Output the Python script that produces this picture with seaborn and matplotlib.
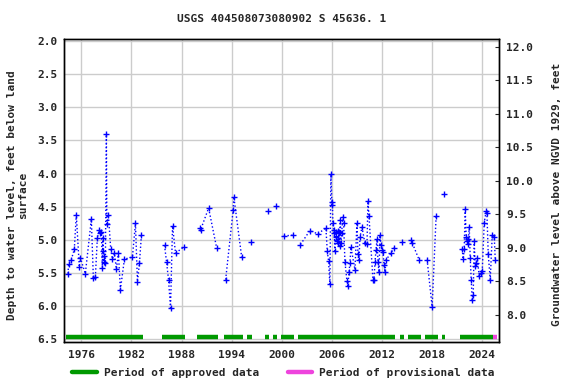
import numpy as np
import pandas as pd
import matplotlib
matplotlib.use("Agg")
import matplotlib.pyplot as plt
from matplotlib.lines import Line2D
import seaborn as sns

# measurement dates (decimal years) and depth to water (ft below land surface)
years = [
    1974.40, 1974.48, 1974.80, 1975.16, 1975.40, 1975.76, 1975.88, 1976.48,
    1977.20, 1977.44, 1977.68, 1977.92, 1978.16, 1978.28, 1978.40, 1978.52,
    1978.58, 1978.64, 1978.70, 1978.76, 1978.88, 1979.00, 1979.06, 1979.24,
    1979.52, 1979.72, 1979.96, 1980.20, 1980.44, 1980.68, 1981.16, 1982.12,
    1982.48, 1982.72, 1982.96, 1983.20,
    1985.96, 1986.20, 1986.44, 1986.68, 1986.92, 1987.28, 1988.24,
    1990.16, 1990.28, 1991.24, 1992.20,
    1993.28, 1994.18, 1994.26, 1995.20,
    1996.28, 1998.32, 1999.28, 2000.24, 2001.32,
    2002.24, 2003.36, 2004.32, 2005.28, 2005.45, 2005.60, 2005.76, 2005.88,
    2006.00, 2006.06, 2006.12, 2006.20, 2006.28, 2006.36, 2006.44, 2006.52,
    2006.60, 2006.68, 2006.76, 2006.84, 2006.92, 2007.00, 2007.08, 2007.16,
    2007.32, 2007.40, 2007.56, 2007.80, 2007.92, 2008.04, 2008.16, 2008.28,
    2008.76, 2009.00, 2009.12, 2009.24, 2009.36, 2009.60, 2009.96, 2010.20,
    2010.32, 2010.44, 2010.92, 2011.04, 2011.16, 2011.28, 2011.40, 2011.52,
    2011.64, 2011.76, 2011.88, 2012.00, 2012.12, 2012.24, 2012.36, 2012.48,
    2013.08, 2013.44,
    2014.40, 2015.48, 2015.60, 2016.44,
    2017.40, 2018.00, 2018.48, 2019.44,
    2021.60, 2021.72, 2021.84, 2021.96, 2022.08, 2022.16, 2022.24, 2022.32,
    2022.44, 2022.56, 2022.68, 2022.80, 2022.92, 2023.04, 2023.16, 2023.28,
    2023.40, 2023.64, 2023.88, 2024.00, 2024.24, 2024.48, 2024.56, 2024.72,
    2024.96, 2025.20, 2025.44, 2025.56,
]
depth = [
    5.51, 5.36, 5.30, 5.14, 4.62, 5.41, 5.27, 5.51,
    4.69, 5.57, 5.56, 4.97, 4.85, 4.90, 4.88, 5.42,
    4.97, 5.17, 5.33, 5.25, 5.35, 3.41, 4.76, 4.62,
    5.14, 5.29, 5.20, 5.44, 5.20, 5.75, 5.29, 5.26,
    4.75, 5.63, 5.35, 4.92,
    5.08, 5.33, 5.60, 6.03, 4.79, 5.20, 5.11,
    4.82, 4.85, 4.52, 5.12,
    5.60, 4.55, 4.35, 5.26,
    5.03, 4.56, 4.49, 4.94, 4.93,
    5.07, 4.86, 4.91, 4.82, 5.17, 5.32, 5.67, 4.01,
    4.47, 4.43, 4.75, 4.85, 4.90, 5.17, 4.88, 4.95,
    5.02, 4.87, 5.05, 4.88, 5.10, 4.70, 5.04, 4.90,
    4.65, 4.74, 5.33, 5.62, 5.69, 5.49, 5.35, 5.11,
    5.45, 4.74, 5.22, 5.31, 4.96, 4.81, 5.05, 5.06,
    4.42, 4.64, 5.61, 5.61, 5.33, 5.16, 4.99, 5.33,
    5.49, 4.93, 5.07, 5.16, 5.18, 5.38, 5.49, 5.30,
    5.20, 5.12,
    5.03, 5.00, 5.04, 5.30,
    5.30, 6.01, 4.64, 4.31,
    5.14, 5.29, 5.14, 4.54, 4.95, 5.02, 4.99, 5.06,
    4.80, 5.27, 5.60, 5.90, 5.83, 5.02, 5.40, 5.35,
    5.27, 5.55, 5.50, 5.47, 4.74, 4.56, 4.60, 5.22,
    5.60, 4.92, 4.95, 5.31,
]

# approval periods
approved_start = [1974.16, 1985.68, 1989.88, 1993.08, 1995.80, 1998.04, 1998.97,
                  1999.96, 2002.00, 2014.12, 2015.17, 2017.12, 2019.13, 2021.32]
approved_end = [1983.37, 1988.41, 1992.37, 1995.37, 1996.45, 1998.52, 1999.45,
                2001.52, 2013.60, 2014.60, 2016.64, 2018.68, 2019.60, 2025.25]
provisional_start = [2025.25]
provisional_end = [2025.73]

df = pd.DataFrame({"year": years, "depth": depth})
# lines are only drawn within one approval period
df["seg"] = np.searchsorted(approved_start, df["year"]) - 1

sns.set_style("white")
plt.rcParams["font.family"] = ["DejaVu Sans Mono"]
plt.rcParams["font.weight"] = "bold"
plt.rcParams["font.size"] = 8

fig = plt.figure(figsize=(5.76, 3.84), dpi=100)
ax = fig.add_axes([0.1116, 0.1102, 0.7552, 0.7875])

sns.lineplot(data=df, x="year", y="depth", units="seg", estimator=None,
             color="#0000ff", ls=":", lw=1, marker="+", markersize=5,
             mew=1, mec="#0000ff", ax=ax, legend=False)

bar_y = 6.465
ax.hlines([bar_y] * len(approved_start), approved_start, approved_end,
          color="#009900", lw=3.2)
ax.hlines([bar_y] * len(provisional_start), provisional_start, provisional_end,
          color="#ee44dd", lw=3.2)

ax.set_xlim(1973.96, 2026.04)
ax.set_ylim(6.536, 1.974)
ax.set_xticks(range(1976, 2025, 6))
ax.set_yticks(np.arange(2.0, 6.51, 0.5))
ax.yaxis.set_major_formatter(matplotlib.ticker.FormatStrFormatter("%.1f"))
ax.grid(True, color="#cccccc", lw=1)
ax.tick_params(axis="both", length=0, labelsize=8)
ax.tick_params(axis="x", pad=6)
ax.tick_params(axis="y", pad=5)
ax.set_xlabel("")
ax.set_ylabel("")
for s in ax.spines.values():
    s.set_color("black")
    s.set_linewidth(1)

ax2 = ax.twinx()
ax2.set_ylim(7.602, 12.11)
ax2.set_yticks(np.arange(8.0, 12.01, 0.5))
ax2.yaxis.set_major_formatter(matplotlib.ticker.FormatStrFormatter("%.1f"))
ax2.tick_params(axis="y", direction="in", length=3, pad=5, labelsize=8)
ax2.grid(False)
for s in ax2.spines.values():
    s.set_color("black")
    s.set_linewidth(1)

fig.text(0.489, 0.95, "USGS 404508073080902 S 45636. 1", ha="center",
         va="center", fontsize=8)
fig.text(0.031, 0.492, "Depth to water level, feet below land\nsurface",
         rotation=90, ha="center", va="center", multialignment="center",
         fontsize=8, linespacing=1.1)
fig.text(0.967, 0.495, "Groundwater level above NGVD 1929, feet",
         rotation=90, ha="center", va="center", fontsize=8)

handles = [Line2D([], [], color="#009900", lw=3.2),
           Line2D([], [], color="#ee44dd", lw=3.2)]
fig.legend(handles, ["Period of approved data", "Period of provisional data"],
           loc="center", bbox_to_anchor=(0.492, 0.029), ncol=2, frameon=False,
           handlelength=2.2, columnspacing=2.6, handletextpad=0.6,
           fontsize=8)

fig.savefig("out.png", dpi=100)
